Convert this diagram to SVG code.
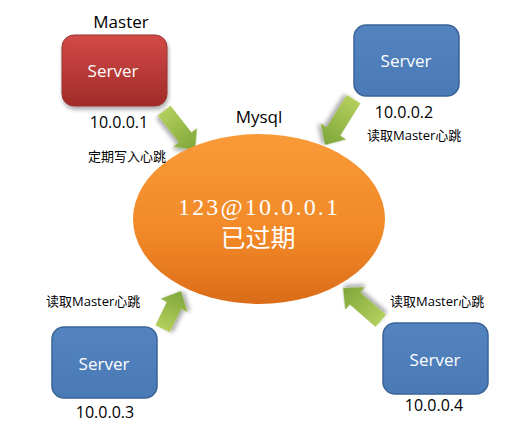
<svg xmlns="http://www.w3.org/2000/svg" width="522" height="425" viewBox="0 0 522 425">
<defs>
<linearGradient id="gRed" x1="0" y1="0" x2="0" y2="1">
<stop offset="0" stop-color="#D24A47"/><stop offset="1" stop-color="#A12B29"/>
</linearGradient>
<linearGradient id="gBlue" x1="0" y1="0" x2="0" y2="1">
<stop offset="0" stop-color="#5384C0"/><stop offset="1" stop-color="#4A7AB6"/>
</linearGradient>
<linearGradient id="gOrange" x1="0" y1="0" x2="0" y2="1">
<stop offset="0" stop-color="#F99A38"/><stop offset="0.6" stop-color="#F18827"/><stop offset="1" stop-color="#DA6C18"/>
</linearGradient>
<linearGradient id="gGreen" x1="0" y1="0" x2="1" y2="0">
<stop offset="0" stop-color="#B3CF5C"/><stop offset="1" stop-color="#7EA53A"/>
</linearGradient>
<filter id="shadow" x="-20%" y="-20%" width="150%" height="150%">
<feGaussianBlur in="SourceAlpha" stdDeviation="2"/>
<feOffset dx="1" dy="3" result="b"/>
<feComponentTransfer><feFuncA type="linear" slope="0.35"/></feComponentTransfer>
<feMerge><feMergeNode/><feMergeNode in="SourceGraphic"/></feMerge>
</filter>
</defs>
<style>
.lbl{font-family:"Open Sans","Noto Sans CJK SC",sans-serif;fill:#000}
.srv{font-family:"Open Sans","Noto Sans",sans-serif;font-size:17px;fill:#fff;text-anchor:middle}
.ip{font-family:"Open Sans","Noto Sans",sans-serif;font-size:16px;fill:#000;text-anchor:middle}
.cn{font-family:"Open Sans","Noto Sans CJK SC",sans-serif;font-size:13px;fill:#000}
.blue{fill:url(#gBlue);stroke:#3B6396;stroke-width:1.5}
.arr{fill:url(#gGreen);filter:url(#shadow)}
</style>
<rect width="522" height="425" fill="#fff"/>

<g id="connectors">
<path class="arr" d="M-50,-8 L-16,-8 L-16,-15 L0,0 L-16,15 L-16,8 L-50,8 Z" transform="translate(195,150) rotate(52)"/>
<path class="arr" d="M-54,-8 L-16,-8 L-16,-15 L0,0 L-16,15 L-16,8 L-54,8 Z" transform="translate(325,145) rotate(122)"/>
<path class="arr" d="M-42,-8 L-16,-8 L-16,-15 L0,0 L-16,15 L-16,8 L-42,8 Z" transform="translate(181,291) rotate(-64)"/>
<path class="arr" d="M-50,-8 L-16,-8 L-16,-15 L0,0 L-16,15 L-16,8 L-50,8 Z" transform="translate(343,288) rotate(-139)"/>
</g>

<g id="mysql">
<ellipse cx="259" cy="219" rx="126" ry="85" fill="url(#gOrange)"/>
<text x="259" y="123" class="lbl" font-size="17" text-anchor="middle">Mysql</text>
<text x="258" y="215" font-family="Liberation Serif,serif" font-size="24" fill="#fff" text-anchor="middle" textLength="160" lengthAdjust="spacing">123@10.0.0.1</text>
<text x="258" y="247" font-family="Noto Sans CJK SC,sans-serif" font-size="25" fill="#fff" text-anchor="middle">已过期</text>
</g>

<g id="master">
<text x="121" y="28" class="lbl" font-size="17" text-anchor="middle">Master</text>
<rect x="62" y="35" width="105" height="71" rx="12" fill="url(#gRed)" stroke="#9A3431" stroke-width="1" filter="url(#shadow)"/>
<text x="113" y="77" class="srv">Server</text>
<text x="119" y="128" class="ip">10.0.0.1</text>
<text x="88" y="161" class="cn">定期写入心跳</text>
</g>

<g id="server2">
<rect x="354" y="25" width="105" height="71" rx="12" class="blue"/>
<text x="406" y="67" class="srv">Server</text>
<text x="404" y="118" class="ip">10.0.0.2</text>
<text x="367" y="140" class="cn">读取Master心跳</text>
</g>

<g id="server3">
<text x="46" y="306" class="cn">读取Master心跳</text>
<rect x="52" y="327" width="105" height="71" rx="12" class="blue"/>
<text x="104" y="370" class="srv">Server</text>
<text x="105" y="418" class="ip">10.0.0.3</text>
</g>

<g id="server4">
<text x="390" y="306" class="cn">读取Master心跳</text>
<rect x="383" y="323" width="105" height="71" rx="12" class="blue"/>
<text x="435" y="366" class="srv">Server</text>
<text x="434" y="411" class="ip">10.0.0.4</text>
</g>
</svg>
